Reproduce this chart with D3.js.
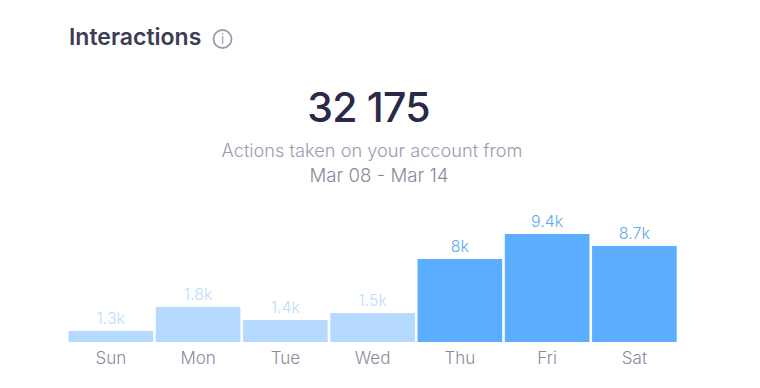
<html>
<head>
  <title>Interactions</title>
  <script src="https://cdn.jsdelivr.net/npm/d3@7"></script>
  <style>
  body, html{
    margin: 0;
    background: white;
    overflow: hidden;
  }
  text{
    font-family: Inter, sans-serif;
  }
  </style>
</head>
<body>
  <div id='chart'></div>
  <script>
  // bar levels, labels are what the picture prints
  var days = ['Sun', 'Mon', 'Tue', 'Wed', 'Thu', 'Fri', 'Sat']
  var levels = [0.96, 3.05, 1.91, 2.52, 7.22, 9.4, 8.36]
  var valueLabels = ['1.3k', '1.8k', '1.4k', '1.5k', '8k', '9.4k', '8.7k']
  var muted = [true, true, true, true, false, false, false]

  var svg = d3.select('#chart').append('svg')
    .attr('width', 760)
    .attr('height', 388)

  svg.append('text')
    .attr('x', 69)
    .attr('y', 45)
    .attr('fill', '#3d3c56')
    .style('font-size', '23px')
    .style('font-weight', 600)
    .text('Interactions')

  // info icon
  svg.append('circle')
    .attr('cx', 222.5)
    .attr('cy', 39)
    .attr('r', 9)
    .attr('fill', 'none')
    .attr('stroke', '#9c9bad')
    .attr('stroke-width', 1.8)
  svg.append('text')
    .attr('x', 222.5)
    .attr('y', 44)
    .attr('text-anchor', 'middle')
    .attr('fill', '#9c9bad')
    .style('font-size', '13px')
    .text('i')

  svg.append('text')
    .attr('x', 368.5)
    .attr('y', 122)
    .attr('text-anchor', 'middle')
    .attr('fill', '#2a2947')
    .style('font-size', '41px')
    .style('font-weight', 500)
    .style('letter-spacing', '-0.8px')
    .text('32 175')

  svg.append('text')
    .attr('x', 372)
    .attr('y', 156.5)
    .attr('text-anchor', 'middle')
    .attr('fill', '#9c9bad')
    .style('font-size', '18.2px')
    .style('font-weight', 300)
    .text('Actions taken on your account from')

  svg.append('text')
    .attr('x', 379)
    .attr('y', 182)
    .attr('text-anchor', 'middle')
    .attr('fill', '#8b8a9d')
    .style('font-size', '18.7px')
    .style('font-weight', 300)
    .text('Mar 08 - Mar 14')

  var x = d3.scaleBand().domain(days).range([67.6, 677.6]).paddingInner(0.03).paddingOuter(0.01)
  var y = d3.scaleLinear().domain([0, 9.4]).range([342, 234])

  var g = svg.append('g')

  g.selectAll('.bar')
    .data(days)
    .enter().append('rect')
      .attr('class', 'bar')
      .attr('x', function(d) { return x(d) })
      .attr('width', x.bandwidth())
      .attr('y', function(d, i) { return y(levels[i]) })
      .attr('height', function(d, i) { return y(0) - y(levels[i]) })
      .attr('fill', function(d, i) { return muted[i] ? '#b5d9ff' : '#5badff' })

  g.selectAll('.value')
    .data(days)
    .enter().append('text')
      .attr('class', 'value')
      .attr('x', function(d) { return x(d) + x.bandwidth() / 2 })
      .attr('y', function(d, i) { return y(levels[i]) - 7 })
      .attr('text-anchor', 'middle')
      .attr('fill', function(d, i) { return muted[i] ? '#bcdcfb' : '#62a9f2' })
      .style('font-size', '16px')
      .style('font-weight', 300)
      .text(function(d, i) { return valueLabels[i] })

  var axis = svg.append('g')
    .attr('transform', 'translate(0,342)')
    .call(d3.axisBottom(x).tickSize(0).tickPadding(10))
  axis.select('.domain').remove()
  axis.selectAll('text')
    .attr('fill', '#8b8a9d')
    .style('font-size', '17px')
    .style('font-weight', 300)
    .style('font-family', 'Inter, sans-serif')
  </script>
</body>
</html>
